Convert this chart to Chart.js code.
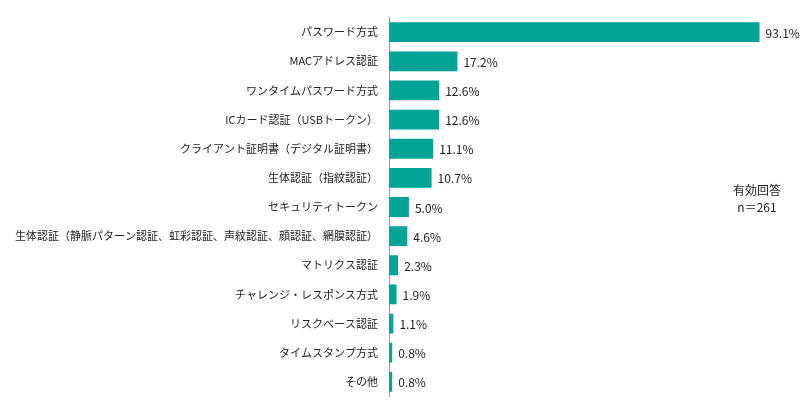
<!DOCTYPE html>
<html><head><meta charset="utf-8">
<script src="https://cdn.jsdelivr.net/npm/chart.js@4/dist/chart.umd.min.js"></script>
<style>html,body{margin:0;background:#fff}#wrap{width:800px;height:414px;position:relative}</style>
</head><body><div id="wrap"><canvas id="c"></canvas></div>
<script>
var labels = ["パスワード方式","MACアドレス認証","ワンタイムパスワード方式","ICカード認証（USBトークン）","クライアント証明書（デジタル証明書）","生体認証（指紋認証）","セキュリティトークン","生体認証（静脈パターン認証、虹彩認証、声紋認証、顔認証、網膜認証）","マトリクス認証","チャレンジ・レスポンス方式","リスクベース認証","タイムスタンプ方式","その他"];
var values = [93.1,17.2,12.6,12.6,11.1,10.7,5.0,4.6,2.3,1.9,1.1,0.8,0.8];
var note = ["有効回答","n＝261"];
var FONT = "'Noto Sans CJK JP', sans-serif";

var valueLabels = {
  id: "valueLabels",
  afterDatasetsDraw: function (chart) {
    var ctx = chart.ctx;
    var meta = chart.getDatasetMeta(0);
    ctx.save();
    ctx.font = "12px " + FONT;
    ctx.fillStyle = "#222";
    ctx.textBaseline = "middle";
    meta.data.forEach(function (bar, i) {
      ctx.fillText(values[i].toFixed(1) + "%", bar.x + 6, bar.y + 1);
    });
    ctx.textAlign = "center";
    ctx.fillText(note[0], 757, 190);
    ctx.fillText(note[1], 757, 207);
    ctx.restore();
  }
};

new Chart(document.getElementById("c"), {
  type: "bar",
  data: { labels: labels, datasets: [{ data: values, backgroundColor: "#00a497", barPercentage: 0.68, categoryPercentage: 1 }] },
  options: {
    indexAxis: "y",
    responsive: true,
    maintainAspectRatio: false,
    animation: false,
    layout: { padding: { top: -3, bottom: 17, right: 13, left: 0 } },
    plugins: { legend: { display: false }, tooltip: { enabled: false } },
    scales: {
      x: { display: false, min: 0, max: 100 },
      y: {
        afterFit: function (s) { s.width = 389; },
        grid: { display: false, drawTicks: false },
        border: { display: true, color: "#999", width: 1 },
        ticks: { font: { family: FONT, size: 11 }, color: "#222", padding: 11 }
      }
    }
  },
  plugins: [valueLabels]
});
</script></body></html>
